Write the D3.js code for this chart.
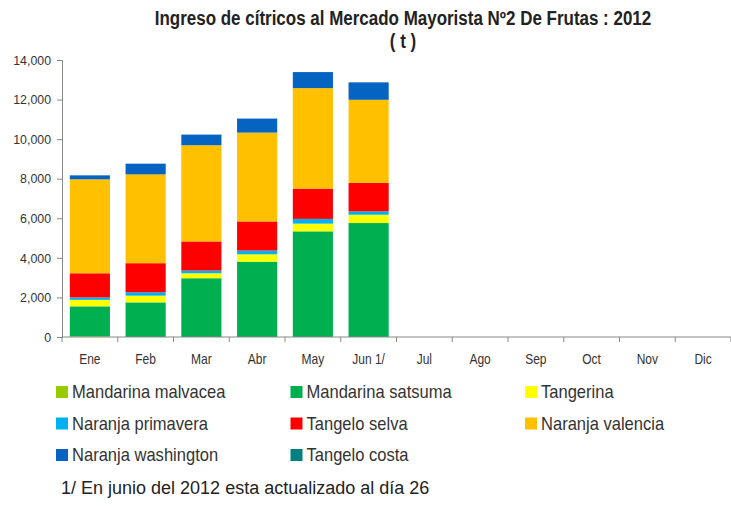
<!DOCTYPE html>
<html>
<head>
<meta charset="utf-8">
<script src="https://cdn.jsdelivr.net/npm/d3@7"></script>
<style>
  body { margin: 0; background: #fff; }
  svg text { font-family: "Liberation Sans", Arial, sans-serif; }
</style>
</head>
<body>
<div id="chart"></div>
<script>
var months = ["Ene", "Feb", "Mar", "Abr", "May", "Jun 1/", "Jul", "Ago", "Sep", "Oct", "Nov", "Dic"];
var seriesNames = ["Mandarina malvacea", "Mandarina satsuma", "Tangerina", "Naranja primavera",
                   "Tangelo selva", "Naranja valencia", "Naranja washington", "Tangelo costa"];
var malvacea   = [30, 0, 0, 0, 0, 0];
var satsuma    = [1520, 1750, 2970, 3810, 5340, 5760];
var tangerina  = [330, 340, 250, 370, 390, 420];
var primavera  = [120, 170, 140, 190, 240, 170];
var selva      = [1220, 1470, 1470, 1470, 1530, 1440];
var valencia   = [4750, 4490, 4860, 4490, 5080, 4200];
var washington = [200, 540, 540, 710, 810, 880];
var costa      = [0, 0, 0, 0, 0, 0];
var yTicks = [0, 2000, 4000, 6000, 8000, 10000, 12000, 14000];
var colors = ["#99cc00", "#00b050", "#ffff00", "#00b0f0", "#ff0000", "#ffc000", "#0563c1", "#008080"];

// no narrow font installed, so squeeze the glyphs a bit
function condense(sel, k) {
    sel.each(function() {
        var len = this.getComputedTextLength();
        d3.select(this)
            .attr("textLength", len * k)
            .attr("lengthAdjust", "spacingAndGlyphs");
    });
}

function init() {
    var w = 731, h = 506;
    var left = 62, right = 731, top = 60, bottom = 337;

    var seriesValues = [malvacea, satsuma, tangerina, primavera, selva, valencia, washington, costa];
    var rows = months.map(function(m, i) {
        var r = { month: m };
        seriesNames.forEach(function(s, j) {
            r[s] = seriesValues[j][i] || 0;
        });
        return r;
    });
    var stacked = d3.stack().keys(seriesNames)(rows);

    var xScale = d3.scaleBand()
                .domain(months)
                .range([left, right])
                .paddingInner(0.28)
                .paddingOuter(0.14);

    var yScale = d3.scaleLinear()
                .domain([0, 14000])
                .range([bottom, top]);

    var svg = d3.select("#chart")
                .append("svg")
                .attr("width", w)
                .attr("height", h);

    svg.append("text")
        .attr("x", 403).attr("y", 25)
        .attr("text-anchor", "middle")
        .attr("font-size", 19.5).attr("font-weight", "bold")
        .attr("fill", "#222")
        .text("Ingreso de cítricos al Mercado Mayorista Nº2 De Frutas : 2012")
        .call(condense, 0.87);
    svg.append("text")
        .attr("x", 403).attr("y", 48)
        .attr("text-anchor", "middle")
        .attr("font-size", 19.5).attr("font-weight", "bold")
        .attr("fill", "#222")
        .text("( t )")
        .call(condense, 0.87);

    svg.selectAll("g.layer")
        .data(stacked)
        .enter()
        .append("g")
        .attr("class", "layer")
        .attr("fill", function(d, i) { return colors[i]; })
        .selectAll("rect")
        .data(function(d) { return d; })
        .enter()
        .append("rect")
        .attr("x", function(d) { return xScale(d.data.month); })
        .attr("width", xScale.bandwidth())
        .attr("y", function(d) { return yScale(d[1]); })
        .attr("height", function(d) { return yScale(d[0]) - yScale(d[1]); });

    // y axis
    var yAxis = d3.axisLeft(yScale)
                .tickValues(yTicks)
                .tickSize(5)
                .tickFormat(d3.format(","));
    var gy = svg.append("g")
        .attr("transform", "translate(" + left + ",0)")
        .call(yAxis);
    gy.select(".domain").attr("stroke", "#888");
    gy.selectAll(".tick line").attr("stroke", "#888");
    gy.selectAll(".tick text")
        .attr("font-size", 13).attr("fill", "#333")
        .attr("x", -11)
        .call(condense, 0.95);

    // x axis
    var gx = svg.append("g")
        .attr("transform", "translate(0," + bottom + ")");
    gx.append("line")
        .attr("x1", left).attr("x2", right)
        .attr("stroke", "#888");
    var bounds = d3.range(months.length + 1).map(function(i) { return left + i * (right - left) / months.length; });
    gx.selectAll("line.tk")
        .data(bounds)
        .enter()
        .append("line")
        .attr("class", "tk")
        .attr("x1", function(d) { return d; })
        .attr("x2", function(d) { return d; })
        .attr("y1", 0).attr("y2", 5)
        .attr("stroke", "#888");
    gx.selectAll("text")
        .data(months)
        .enter()
        .append("text")
        .attr("x", function(d) { return xScale(d) + xScale.bandwidth() / 2; })
        .attr("y", 27)
        .attr("text-anchor", "middle")
        .attr("font-size", 15).attr("fill", "#333")
        .text(function(d) { return d; })
        .call(condense, 0.8);

    // legend
    var legend = svg.selectAll("g.leg")
        .data(seriesNames)
        .enter()
        .append("g")
        .attr("class", "leg")
        .attr("transform", function(d, i) {
            return "translate(" + (56 + (i % 3) * 234.5) + "," + (392 + Math.floor(i / 3) * 31.5) + ")";
        });
    legend.append("rect")
        .attr("x", 0).attr("y", -6)
        .attr("width", 12).attr("height", 12)
        .attr("fill", function(d, i) { return colors[i]; });
    legend.append("text")
        .attr("x", 16).attr("y", 6)
        .attr("font-size", 19).attr("fill", "#333")
        .text(function(d) { return d; })
        .call(condense, 0.87);

    svg.append("text")
        .attr("x", 61).attr("y", 494)
        .attr("font-size", 18).attr("fill", "#222")
        .text("1/ En junio del 2012 esta actualizado al día 26");
}
window.onload = init;
</script>
</body>
</html>
